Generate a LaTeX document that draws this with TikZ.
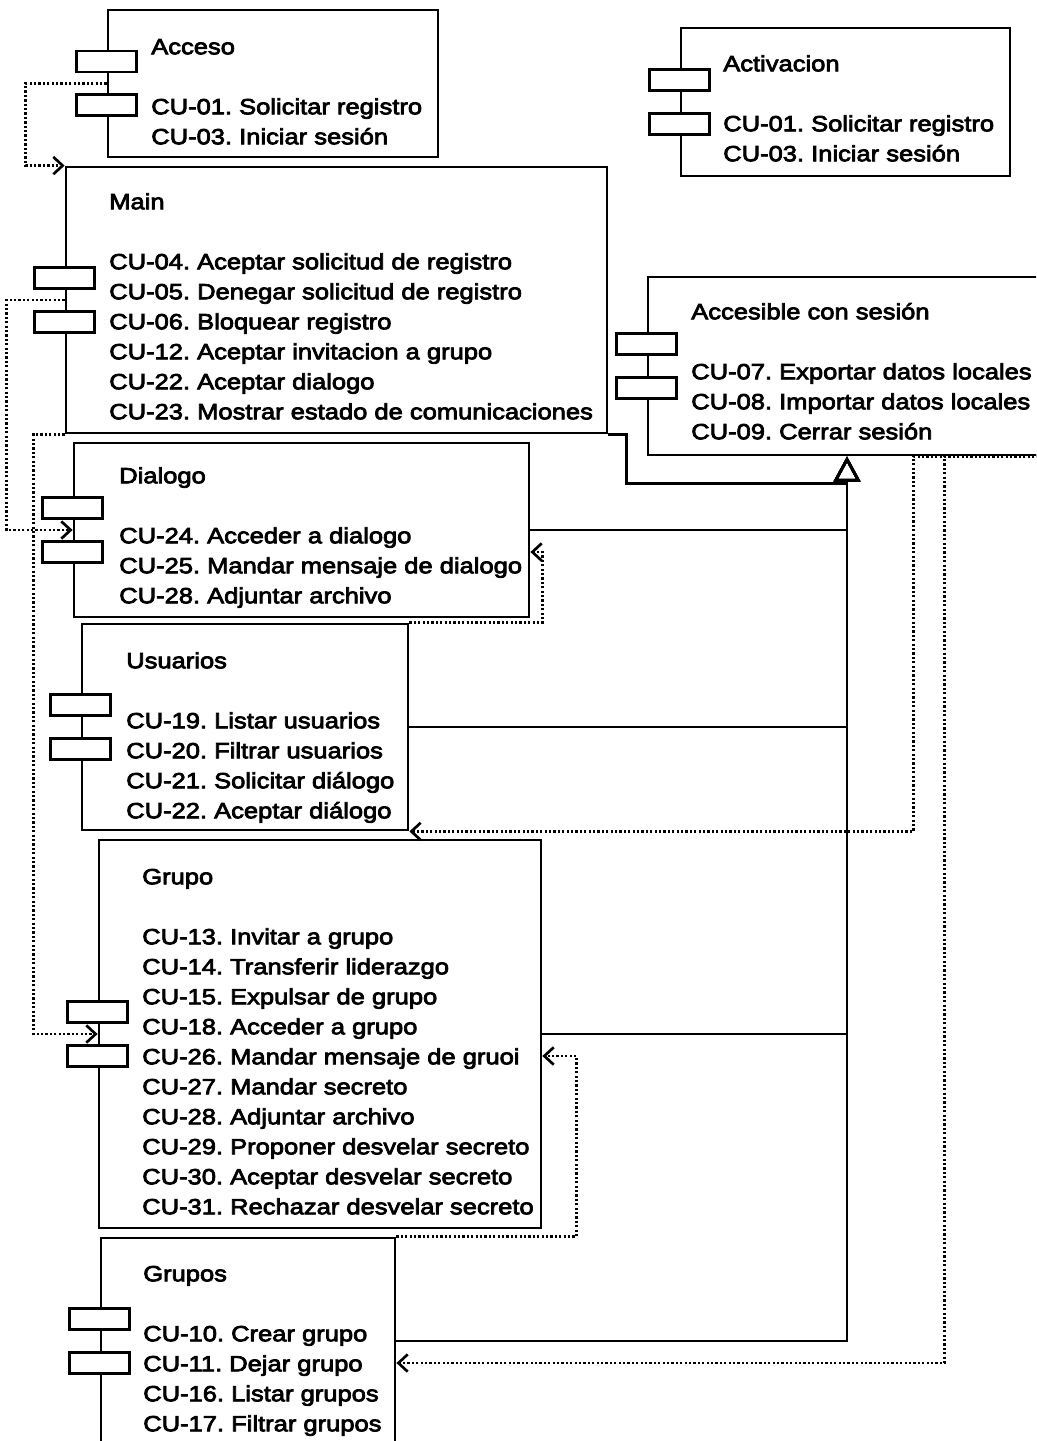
\documentclass[tikz,border=0pt]{standalone}
\usepackage{fontspec}
\setmainfont{Liberation Sans}[FakeStretch=1.16, FakeBold=3.5]
\usetikzlibrary{arrows.meta,fit,calc}

% component box: frame plus the two tabs centred on its left edge
\newcommand\compbox[5]{%
  \node[comp, fit={(#2,#3) (#4,#5)}] (#1) {};
  \node[comptab, anchor=south] (#1-tabA) at ($(#1.west)+(0,-10)$) {};
  \node[comptab, anchor=north] (#1-tabB) at ($(#1.west)+(0,10)$) {};
}

\begin{document}
\frenchspacing
\begin{tikzpicture}[x=0.75pt,y=-0.75pt,
  comp/.style={draw, line width=2.1pt, inner sep=0pt, fill=white},
  comptab/.style={draw, line width=2.1pt, fill=white, inner sep=0pt,
    minimum width=45pt, minimum height=15.75pt},
  txt/.style={anchor=north west, inner sep=0pt, align=left,
    font=\fontsize{16.5}{22.5}\selectfont},
  link/.style={line width=2.1pt},
  dep/.style={line width=2pt, dash pattern=on 1.7pt off 1.6pt,
    -{Straight Barb[length=7pt,width=13pt]}},
  gen/.style={line width=2.1pt, -{Triangle[open,length=19pt,width=20pt]}},
]
\useasboundingbox (0,0) rectangle (1036,1441);
\clip (0,0) rectangle (1036,1441);
\fill[white] (0,0) rectangle (1036,1441);

% frames
\compbox{acceso}{108}{10}{438}{157}
\compbox{activacion}{681}{28}{1010}{176}
\compbox{main}{66}{167}{607}{433}
\compbox{accesible}{648}{277}{1046}{455}
\compbox{dialogo}{74}{443}{529}{617}
\compbox{usuarios}{82}{624}{408}{830}
\compbox{grupo}{99}{840}{541}{1228}
\compbox{grupos}{101}{1238}{395}{1444}

% texts
\node[txt] (acceso-t) at (151,33) {\strut Acceso\\[22.5pt]CU-01. Solicitar registro\\CU-03. Iniciar sesión};
\node[txt] (activacion-t) at (723,50) {\strut Activacion\\[22.5pt]CU-01. Solicitar registro\\CU-03. Iniciar sesión};
\node[txt] (main-t) at (109,188) {\strut Main\\[22.5pt]CU-04. Aceptar solicitud de registro\\CU-05. Denegar solicitud de registro\\CU-06. Bloquear registro\\CU-12. Aceptar invitacion a grupo\\CU-22. Aceptar dialogo\\CU-23. Mostrar estado de comunicaciones};
\node[txt] (accesible-t) at (691,298) {\strut Accesible con sesión\\[22.5pt]CU-07. Exportar datos locales\\CU-08. Importar datos locales\\CU-09. Cerrar sesión};
\node[txt] (dialogo-t) at (119,462) {\strut Dialogo\\[22.5pt]CU-24. Acceder a dialogo\\CU-25. Mandar mensaje de dialogo\\CU-28. Adjuntar archivo};
\node[txt] (usuarios-t) at (126,647) {\strut Usuarios\\[22.5pt]CU-19. Listar usuarios\\CU-20. Filtrar usuarios\\CU-21. Solicitar diálogo\\CU-22. Aceptar diálogo};
\node[txt] (grupo-t) at (142,863) {\strut Grupo\\[22.5pt]CU-13. Invitar a grupo\\CU-14. Transferir liderazgo\\CU-15. Expulsar de grupo\\CU-18. Acceder a grupo\\CU-26. Mandar mensaje de gruoi\\CU-27. Mandar secreto\\CU-28. Adjuntar archivo\\CU-29. Proponer desvelar secreto\\CU-30. Aceptar desvelar secreto\\CU-31. Rechazar desvelar secreto};
\node[txt] (grupos-t) at (143,1260) {\strut Grupos\\[22.5pt]CU-10. Crear grupo\\CU-11. Dejar grupo\\CU-16. Listar grupos\\CU-17. Filtrar grupos};

% generalisation towards "Accesible con sesión"
\coordinate (genbase) at ($(accesible.south)+(0,27)$);
\draw[link] (main.south east) -- ++(18,0) |- (genbase);
\draw[gen] (dialogo.east) -| (accesible.south);
\draw[gen] (usuarios.east) -| (accesible.south);
\draw[gen] (grupo.east) -| (accesible.south);
\draw[gen] (grupos.east) -| (accesible.south);

% dependencies
\draw[dep] (acceso.west) -- ++(-81,0) |- (main.north west);
\draw[dep] (main.west) -- ++(-58,0) |- (dialogo.west);
\draw[dep] (main.south west) -- ++(-31,0) |- (grupo.west);
\draw[dep] (usuarios.north east) -| ($(dialogo.east)+(12,22)$) -- ($(dialogo.east)+(0,22)$);
\draw[dep] (grupos.north east) -| ($(grupo.east)+(34,22)$) -- ($(grupo.east)+(0,22)$);
\draw[dep] (accesible.south east) -- ++(-134,0) |- (usuarios.south east);
\draw[dep] (accesible.south east) -- ++(-103,0) |- ($(grupos.east)+(0,22)$);
\end{tikzpicture}
\end{document}
